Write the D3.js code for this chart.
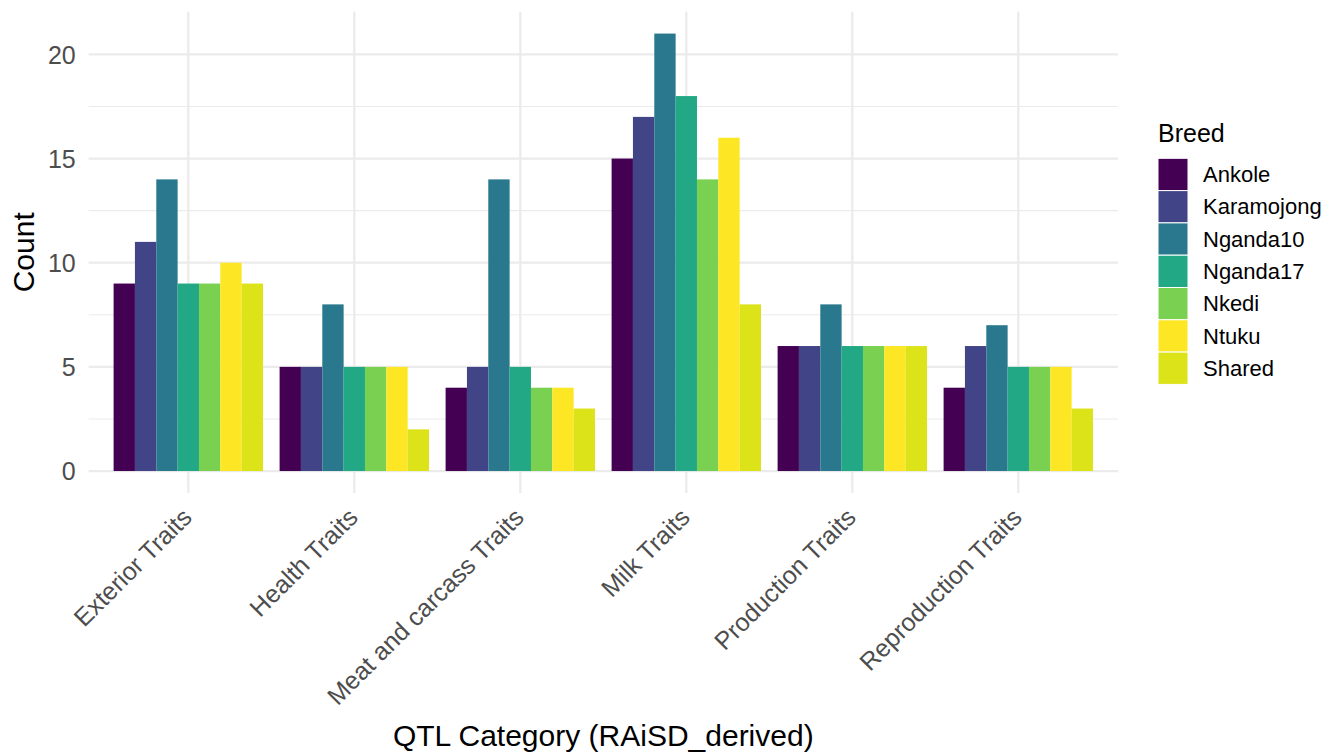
<!DOCTYPE html>
<html>
<head>
<meta charset="utf-8">
<script src="https://cdn.jsdelivr.net/npm/d3@7"></script>
<style>
  html, body { margin: 0; padding: 0; background: #fff; }
  svg { display: block; font-family: "Liberation Sans", Arial, sans-serif; }
</style>
</head>
<body>
<svg id="chart" width="1338" height="752"></svg>
<script>
const categories = ["Exterior Traits", "Health Traits", "Meat and carcass Traits", "Milk Traits", "Production Traits", "Reproduction Traits"];
const breeds = ["Ankole", "Karamojong", "Nganda10", "Nganda17", "Nkedi", "Ntuku", "Shared"];
const breedColors = ["#440154", "#414487", "#2A788E", "#22A884", "#7AD151", "#FDE725", "#DCE319"];
const Ankole     = [9, 5, 4, 15, 6, 4];
const Karamojong = [11, 5, 5, 17, 6, 6];
const Nganda10   = [14, 8, 14, 21, 8, 7];
const Nganda17   = [9, 5, 5, 18, 6, 5];
const Nkedi      = [9, 5, 4, 14, 6, 5];
const Ntuku      = [10, 5, 4, 16, 6, 5];
const Shared     = [9, 2, 3, 8, 6, 3];
const yTicks = [0, 5, 10, 15, 20];
const yMinor = [2.5, 7.5, 12.5, 17.5];
const xTitle = "QTL Category (RAiSD_derived)";
const yTitle = "Count";
const legendTitle = "Breed";

const seriesValues = [Ankole, Karamojong, Nganda10, Nganda17, Nkedi, Ntuku, Shared];
const data = [];
categories.forEach((c, ci) => {
  breeds.forEach((b, bi) => data.push({ cat: c, breed: b, value: seriesValues[bi][ci], color: breedColors[bi] }));
});

const svg = d3.select("#chart");
const panel = { left: 88.7, right: 1117.9, top: 11.7, bottom: 492.9 };
const yMax = d3.max(data, d => d.value);
const yExp = yMax * 0.05;
const y = d3.scaleLinear().domain([-yExp, yMax + yExp]).range([panel.bottom, panel.top]);

// discrete x positions with ggplot-like 0.6 expansion
const xPos = d3.scaleLinear().domain([0.4, categories.length + 0.6]).range([panel.left, panel.right]);
const x0 = d3.scaleBand().domain(categories).range([xPos(0.5), xPos(categories.length + 0.5)]).paddingInner(0.1).paddingOuter(0.05);
const x1 = d3.scaleBand().domain(breeds).range([0, x0.bandwidth()]);
const color = d3.scaleOrdinal().domain(breeds).range(breedColors);

const grid = svg.append("g");
grid.selectAll("line.minor").data(yMinor).enter().append("line")
  .attr("x1", panel.left).attr("x2", panel.right)
  .attr("y1", d => y(d)).attr("y2", d => y(d))
  .attr("stroke", "#EBEBEB").attr("stroke-width", 1.1);
grid.selectAll("line.major").data(yTicks).enter().append("line")
  .attr("x1", panel.left).attr("x2", panel.right)
  .attr("y1", d => y(d)).attr("y2", d => y(d))
  .attr("stroke", "#EBEBEB").attr("stroke-width", 2.3);
grid.selectAll("line.vmajor").data(categories).enter().append("line")
  .attr("x1", d => x0(d) + x0.bandwidth() / 2).attr("x2", d => x0(d) + x0.bandwidth() / 2)
  .attr("y1", panel.top).attr("y2", panel.bottom)
  .attr("stroke", "#EBEBEB").attr("stroke-width", 2.3);

// bars
svg.append("g").selectAll("rect").data(data).enter().append("rect")
  .attr("x", d => x0(d.cat) + x1(d.breed))
  .attr("width", x1.bandwidth())
  .attr("y", d => y(d.value))
  .attr("height", d => y(0) - y(d.value))
  .attr("fill", d => color(d.breed));

// y axis labels
const yAxis = svg.append("g").attr("transform", `translate(${panel.left - 13},0)`)
  .call(d3.axisLeft(y).tickValues(yTicks).tickSize(0).tickPadding(0));
yAxis.select(".domain").remove();
yAxis.selectAll("text").attr("font-size", 25).attr("fill", "#4D4D4D")
  .attr("font-family", "Liberation Sans, Arial, sans-serif").attr("dy", "0.35em");

// x axis labels rotated
const xAxis = svg.append("g").attr("transform", `translate(0,${panel.bottom})`)
  .call(d3.axisBottom(x0).tickSize(0).tickPadding(0));
xAxis.select(".domain").remove();
xAxis.selectAll(".tick text")
  .attr("font-size", 25).attr("fill", "#4D4D4D")
  .attr("font-family", "Liberation Sans, Arial, sans-serif")
  .attr("text-anchor", "end")
  .attr("dy", 0)
  .attr("y", 0)
  .attr("transform", "translate(5,26) rotate(-45)");

// axis titles
svg.append("text").attr("x", (panel.left + panel.right) / 2).attr("y", 746)
  .attr("text-anchor", "middle").attr("font-size", 30).attr("fill", "#000").text(xTitle);
svg.append("text").attr("transform", `translate(34,${(panel.top + panel.bottom) / 2}) rotate(-90)`)
  .attr("text-anchor", "middle").attr("font-size", 30).attr("fill", "#000").text(yTitle);

// legend
const lg = svg.append("g").attr("transform", "translate(1158,0)");
lg.append("text").attr("x", 0).attr("y", 142).attr("font-size", 25).attr("fill", "#000").text(legendTitle);
const keyH = 32.3, keyTop = 158.3;
breeds.forEach((b, i) => {
  lg.append("rect").attr("x", 0).attr("y", keyTop + i * keyH).attr("width", 30).attr("height", keyH)
    .attr("fill", color(b)).attr("stroke", "#fff").attr("stroke-width", 1);
  lg.append("text").attr("x", 45).attr("y", keyTop + i * keyH + keyH / 2).attr("dy", "0.35em")
    .attr("font-size", 22).attr("fill", "#000").text(b);
});
</script>
</body>
</html>
